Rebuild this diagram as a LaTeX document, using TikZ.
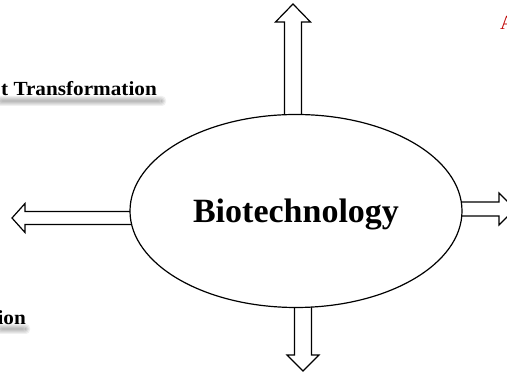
\documentclass[tikz,border=0pt]{standalone}
\usepackage{fontspec}
\setmainfont{Liberation Serif}
\usetikzlibrary{shapes.geometric}
\usetikzlibrary{calc}
\usetikzlibrary{backgrounds}

% hollow block arrow: tail, tip, half shaft, half head, head length
\newcommand{\hollowarrow}[5]{%
  \coordinate (tb) at ($(#1)!-4pt!(#2)$);
  \coordinate (hb) at ($(#2)!#5!(#1)$);
  \draw[blockline] ($(tb)!#3!90:(#2)$) -- ($(hb)!#3!90:(#2)$) -- ($(hb)!#4!90:(#2)$)
    -- (#2) -- ($(hb)!#4!-90:(#2)$) -- ($(hb)!#3!-90:(#2)$) -- ($(tb)!#3!-90:(#2)$) -- cycle;
}

\tikzset{
  topic/.style={ellipse, draw, line width=1.2pt, fill=white,
    minimum width=332pt, minimum height=193pt, inner sep=0pt,
    font=\bfseries\fontsize{34}{40}\selectfont, text height=24pt, text depth=0pt},
  blockline/.style={line width=1.2pt, fill=white, line join=miter},
  branch/.style={font=\bfseries\fontsize{20}{24}\selectfont, xscale=1.06,
    transform shape, inner sep=0pt, anchor=base east},
  heading/.style={text=red!75!black, font=\fontsize{20}{24}\selectfont,
    inner sep=0pt, anchor=base west},
  smudge/.style={fill=black, opacity=0.06, rounded corners=4pt},
}

\begin{document}
\begin{tikzpicture}[x=1pt,y=1pt]
    \useasboundingbox (0,0) rectangle (507,372);
    \clip (0,0) rectangle (507,372);

    \node[topic] (bio) at (296,161) {Biotechnology};

    % loose ends of the arrows
    \coordinate (upE) at (293,368);
    \coordinate (downE) at (303,1);
    \coordinate (leftE) at (12,154);
    \coordinate (rightE) at (515,163);

    \begin{scope}[on background layer]
        \clip (0,0) rectangle (507,372);
        \hollowarrow{bio.north -| upE}{upE}{8.5pt}{17.5pt}{18pt}
        \hollowarrow{bio.south -| downE}{downE}{8.5pt}{16pt}{16pt}
        \hollowarrow{bio.west |- leftE}{leftE}{6.5pt}{14.5pt}{13pt}
        \hollowarrow{bio.east |- rightE}{rightE}{7pt}{16pt}{16pt}
        % soft shadows under the side labels
        \foreach \s in {0,...,4} {
            \fill[smudge] (-5+\s,266+\s) rectangle (166-\s,276-\s);
            \fill[smudge] (-5+\s,38+\s) rectangle (30-\s,48-\s);
        }
    \end{scope}

    \node[branch] (trans) at (157,276) {t Transformation};
    \node[branch] (tion) at (26,47) {ion};

    \node[heading] (head) at (500,342) {A};
\end{tikzpicture}
\end{document}
